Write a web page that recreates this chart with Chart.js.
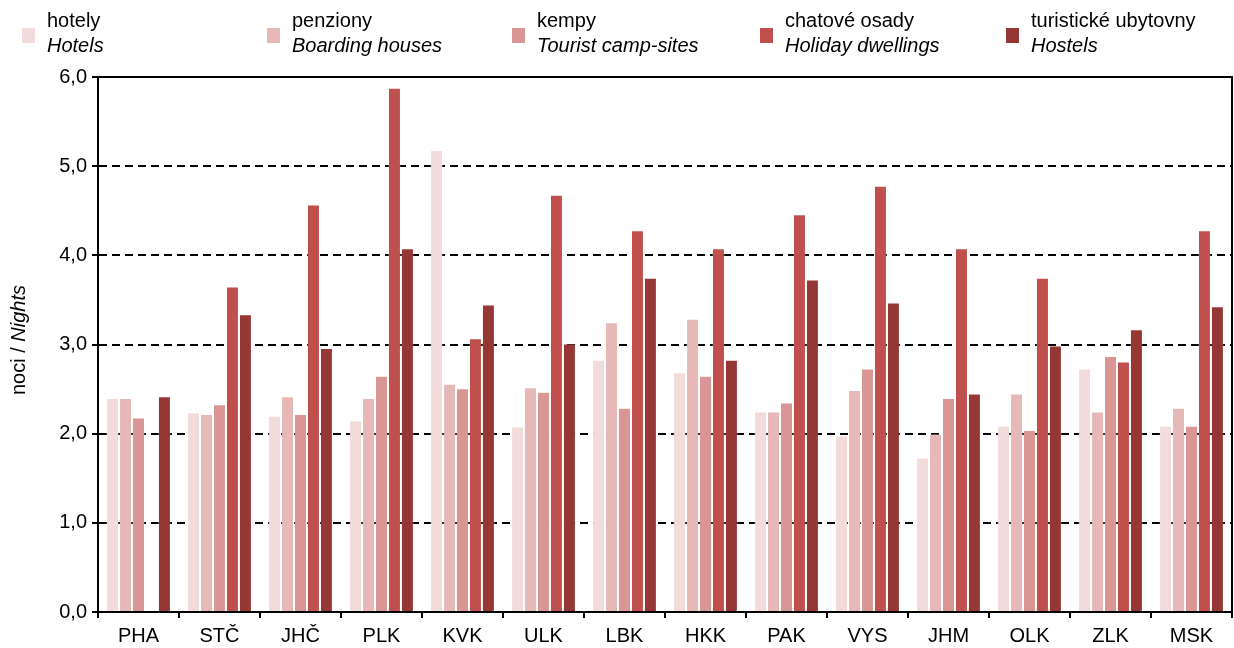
<!DOCTYPE html>
<html>
<head>
<meta charset="utf-8">
<script src="https://cdn.jsdelivr.net/npm/chart.js@4"></script>
<style>
  body { margin: 0; background: #fff; font-family: "Liberation Sans", Arial, sans-serif; }
  #wrap { position: relative; width: 1234px; height: 648px; overflow: hidden; }
  #chart { position: absolute; left: 0; top: 0; }
  .leg { position: absolute; top: 8px; font-size: 20px; line-height: 25px; color: #000; white-space: nowrap; }
  .sw { position: absolute; top: 28px; width: 13px; height: 15px; }
  #ytitle { position: absolute; left: -82px; top: 328px; width: 200px; height: 24px; line-height: 24px;
            text-align: center; font-size: 20px; transform: rotate(-90deg); white-space: nowrap; }
</style>
</head>
<body>
<div id="wrap">
  <canvas id="chart" width="1234" height="648"></canvas>
  <div id="ytitle">noci / <i>Nights</i></div>
</div>
<script>
'use strict';

// data
const regions = ['PHA', 'STČ', 'JHČ', 'PLK', 'KVK', 'ULK', 'LBK', 'HKK', 'PAK', 'VYS', 'JHM', 'OLK', 'ZLK', 'MSK'];

const seriesCz = ['hotely', 'penziony', 'kempy', 'chatové osady', 'turistické ubytovny'];
const seriesEn = ['Hotels', 'Boarding houses', 'Tourist camp-sites', 'Holiday dwellings', 'Hostels'];

const hotels    = [2.40, 2.24, 2.20, 2.15, 5.18, 2.08, 2.83, 2.69, 2.25, 1.98, 1.73, 2.09, 2.73, 2.09];
const boarding  = [2.40, 2.22, 2.42, 2.40, 2.56, 2.52, 3.25, 3.29, 2.25, 2.49, 2.00, 2.45, 2.25, 2.29];
const camps     = [2.18, 2.33, 2.22, 2.65, 2.51, 2.47, 2.29, 2.65, 2.35, 2.73, 2.40, 2.04, 2.87, 2.09];
const dwellings = [null, 3.65, 4.57, 5.88, 3.07, 4.68, 4.28, 4.08, 4.46, 4.78, 4.08, 3.75, 2.81, 4.28];
const hostels   = [2.42, 3.34, 2.96, 4.08, 3.45, 3.01, 3.75, 2.83, 3.73, 3.47, 2.45, 2.99, 3.17, 3.43];

const yTicks = [0, 1, 2, 3, 4, 5, 6];

// styles
const colors = ['#F2DCDB', '#E6B9B8', '#D99694', '#C0504D', '#953735'];
const legendLeft = [22, 267, 512, 760, 1006];

const allSeries = [hotels, boarding, camps, dwellings, hostels];

// legend (html, two lines each)
const wrap = document.getElementById('wrap');
for (let i = 0; i < seriesCz.length; i++) {
  const sw = document.createElement('div');
  sw.className = 'sw';
  sw.style.left = legendLeft[i] + 'px';
  sw.style.background = colors[i];
  wrap.appendChild(sw);

  const txt = document.createElement('div');
  txt.className = 'leg';
  txt.style.left = (legendLeft[i] + 25) + 'px';
  txt.innerHTML = seriesCz[i] + '<br><i>' + seriesEn[i] + '</i>';
  wrap.appendChild(txt);
}

// solid frame on top and right
const framePlugin = {
  id: 'frame',
  afterDraw(chart) {
    const a = chart.chartArea;
    const c = chart.ctx;
    c.save();
    c.strokeStyle = '#000';
    c.lineWidth = 2;
    c.beginPath();
    c.moveTo(a.left, a.top);
    c.lineTo(a.right, a.top);
    c.lineTo(a.right, a.bottom);
    c.stroke();
    c.restore();
  }
};

const datasets = [];
for (let i = 0; i < allSeries.length; i++) {
  datasets.push({
    label: seriesCz[i] + ' / ' + seriesEn[i],
    data: allSeries[i],
    backgroundColor: colors[i],
    borderColor: 'rgba(255,255,255,0.2)',
    borderWidth: 1,
    categoryPercentage: 0.8,
    barPercentage: 1
  });
}

const ctx = document.getElementById('chart').getContext('2d');
const chart = new Chart(ctx, {
  type: 'bar',
  data: {
    labels: regions,
    datasets: datasets
  },
  options: {
    responsive: false,
    animation: false,
    layout: { padding: { top: 77, right: 2, left: 0, bottom: 0 } },
    plugins: {
      legend: { display: false },
      tooltip: { enabled: false }
    },
    scales: {
      x: {
        grid: { drawOnChartArea: false, color: '#000', lineWidth: 2, tickLength: 6 },
        border: { color: '#000', width: 2 },
        ticks: { color: '#000', font: { family: 'Liberation Sans', size: 20 }, padding: 6, maxRotation: 0 },
        afterFit: s => { s.height = 36; }
      },
      y: {
        min: yTicks[0],
        max: yTicks[yTicks.length - 1],
        z: 1,
        afterBuildTicks: s => { s.ticks = yTicks.map(v => ({ value: v })); },
        ticks: {
          color: '#000',
          font: { family: 'Liberation Sans', size: 20 },
          padding: 5,
          callback: v => v.toFixed(1).replace('.', ',')
        },
        grid: { color: '#000', lineWidth: 2, tickLength: 6 },
        border: { color: '#000', width: 2, dash: [8, 5] },
        afterFit: s => { s.width = 98; }
      }
    }
  },
  plugins: [framePlugin]
});
</script>
</body>
</html>
